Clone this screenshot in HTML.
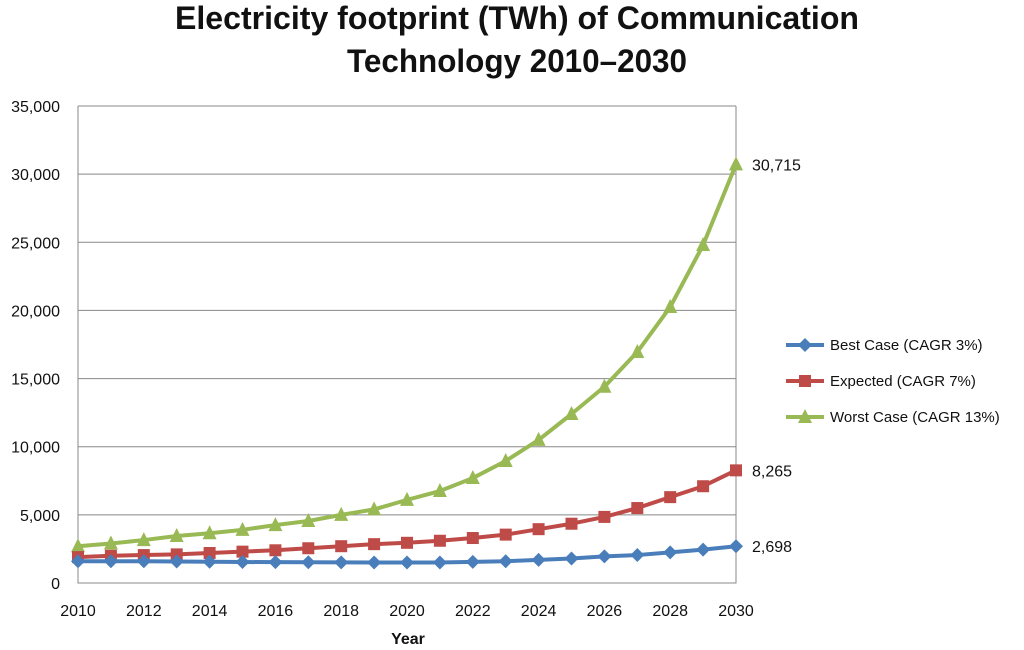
<!DOCTYPE html>
<html><head><meta charset="utf-8"><style>
body{margin:0;background:#fff;}
svg{display:block;font-family:"Liberation Sans",sans-serif;}
</style></head><body>
<svg id="chart" width="1024" height="650" xmlns="http://www.w3.org/2000/svg">
<text x="517" y="29" text-anchor="middle" font-size="32" font-weight="bold" fill="#111" textLength="684" lengthAdjust="spacingAndGlyphs">Electricity footprint  (TWh) of Communication</text>
<text x="517" y="72" text-anchor="middle" font-size="32" font-weight="bold" fill="#111" textLength="340" lengthAdjust="spacingAndGlyphs">Technology 2010–2030</text>
<g id="grid"></g><g id="axes"></g><g id="series"></g><g id="legend"></g>
<text x="408" y="644" text-anchor="middle" font-size="16" font-weight="bold" fill="#111">Year</text>
</svg>
<script>
const years=[2010,2011,2012,2013,2014,2015,2016,2017,2018,2019,2020,2021,2022,2023,2024,2025,2026,2027,2028,2029,2030];
const bestCase=[1600,1600,1600,1580,1560,1540,1530,1520,1510,1500,1500,1500,1550,1600,1700,1800,1950,2050,2250,2450,2698];
const expected=[1900,2000,2050,2100,2200,2300,2400,2550,2700,2850,2950,3100,3300,3550,3950,4350,4850,5500,6300,7100,8265];
const worstCase=[2700,2900,3150,3450,3650,3900,4250,4550,5000,5400,6100,6750,7700,8950,10500,12400,14400,16950,20250,24800,30715];
const yTicks=[0,5000,10000,15000,20000,25000,30000,35000];
const xTicks=[2010,2012,2014,2016,2018,2020,2022,2024,2026,2028,2030];
const seriesNames=["Best Case (CAGR  3%)","Expected (CAGR  7%)","Worst Case  (CAGR 13%)"];
const endLabels=["2,698","8,265","30,715"];
const NS="http://www.w3.org/2000/svg";
const X0=78,X1=736,Y0=583,Y1=106;
const xs=v=>X0+(v-2010)/20*(X1-X0);
const ys=v=>Y0-v/35000*(Y0-Y1);
function mk(t,a,p){const e=document.createElementNS(NS,t);for(const k in a)e.setAttribute(k,a[k]);p.appendChild(e);return e;}
const grid=document.getElementById('grid'),axes=document.getElementById('axes'),ser=document.getElementById('series'),leg=document.getElementById('legend');
yTicks.forEach(v=>{
 const l=mk('line',{x1:X0,x2:X1,y1:ys(v),y2:ys(v),stroke:'#888','stroke-width':1},grid);
 
 
 const t=mk('text',{x:60,y:ys(v)+6,'text-anchor':'end','font-size':16,fill:'#111'},axes);
 t.textContent=v.toLocaleString('en-US');
 
 
});
xTicks.forEach(v=>{
 const t=mk('text',{x:xs(v),y:616,'text-anchor':'middle','font-size':16,fill:'#111'},axes);
 t.textContent=v;
 
 
});
const ax=mk('path',{d:`M${X0} ${Y1}V${Y0}H${X1}V${Y1}`,fill:'none',stroke:'#888'},axes);


const colors=['#4a7ebb','#be4b48','#98b954'];
const data=[bestCase,expected,worstCase];
function marker(i,x,y,g){
 if(i===0)return mk('path',{d:`M${x} ${y-7}L${x+7} ${y}L${x} ${y+7}L${x-7} ${y}Z`,fill:colors[i]},g);
 if(i===1)return mk('rect',{x:x-6,y:y-6,width:12,height:12,fill:colors[i]},g);
 return mk('path',{d:`M${x} ${y-8}L${x+7} ${y+6}L${x-7} ${y+6}Z`,fill:colors[i]},g);
}
[2,1,0].forEach(i=>{
 const g=mk('g',{},ser);
 
 
 const p=mk('polyline',{points:years.map((y,j)=>xs(y)+','+ys(data[i][j])).join(' '),fill:'none',stroke:colors[i],'stroke-width':4,'stroke-linejoin':'round'},g);
 
 
 years.forEach((y,j)=>{const m=marker(i,xs(y),ys(data[i][j]),g);
  
  });
 const t=mk('text',{x:752,y:ys(data[i][20])+6,'font-size':16,fill:'#111'},g);
 t.textContent=endLabels[i];
 
 
});
seriesNames.forEach((n,i)=>{
 const y=345+i*36;
 const g=mk('g',{},leg);
 
 
 mk('line',{x1:786,x2:824,y1:y,y2:y,stroke:colors[i],'stroke-width':4},g);
 marker(i,805,y,g);
 const t=mk('text',{x:830,y:y+5,'font-size':15,fill:'#111'},g);
 t.textContent=n;
});
</script>
</body></html>
